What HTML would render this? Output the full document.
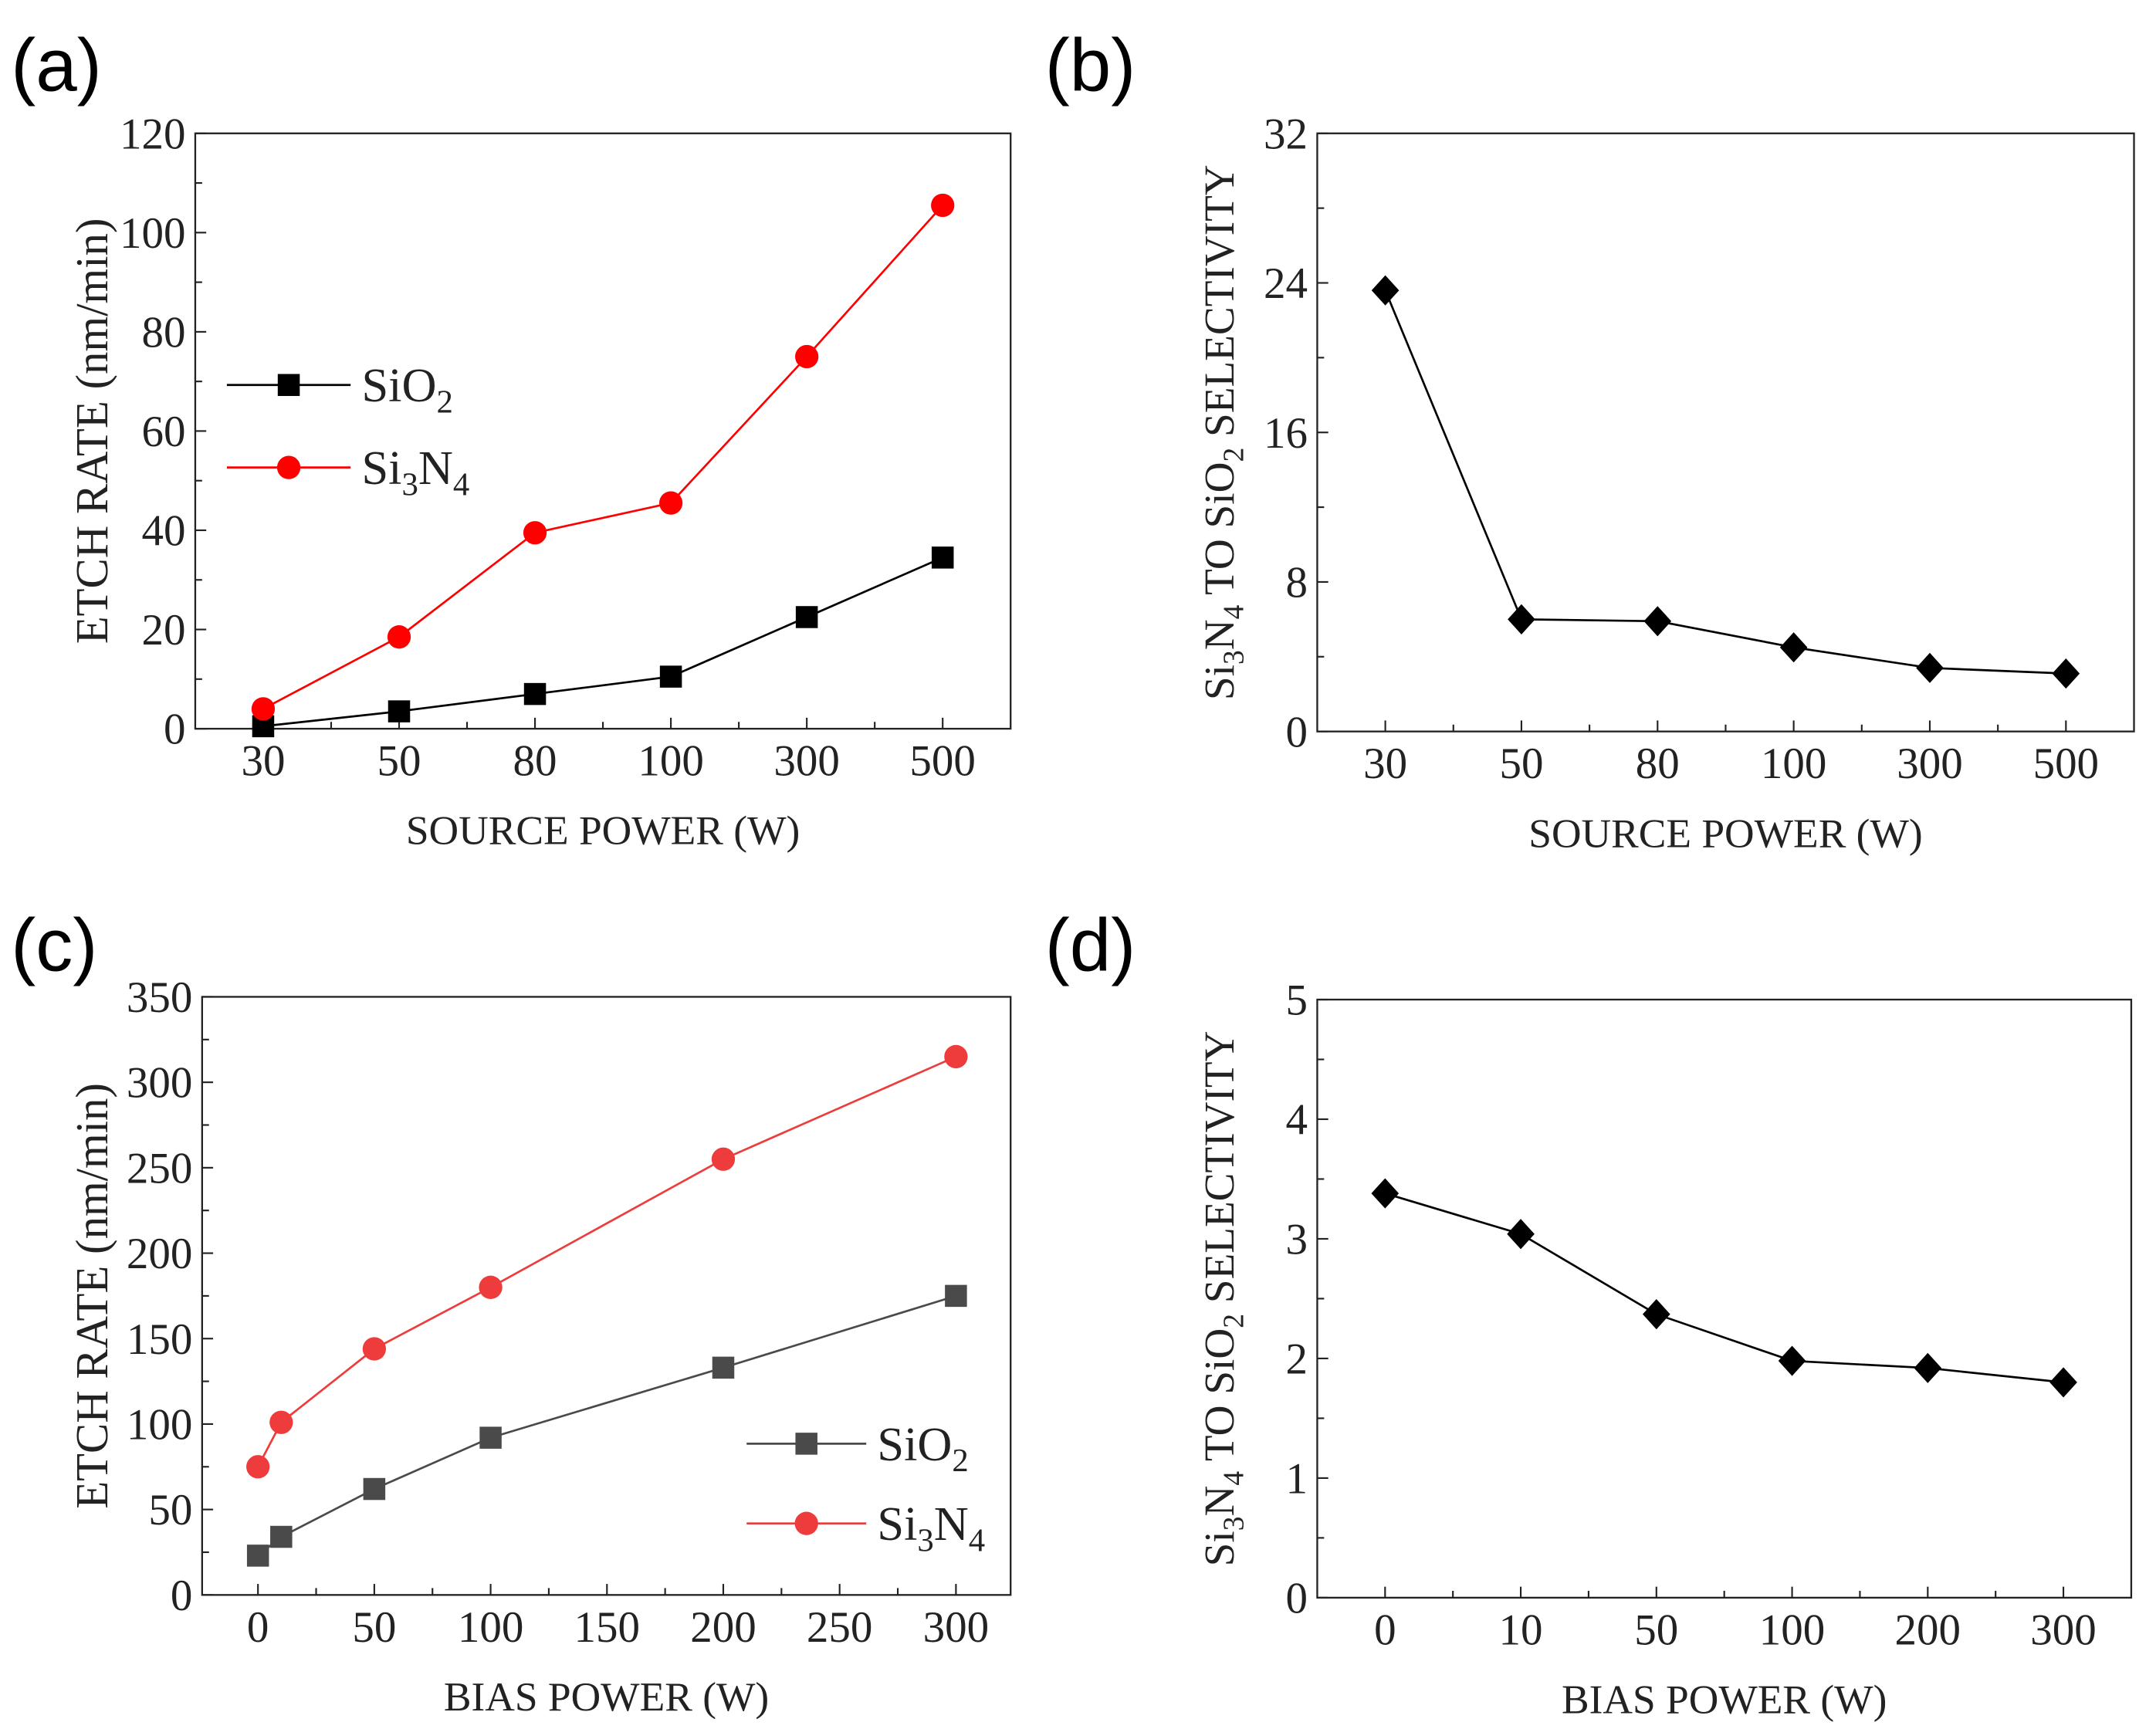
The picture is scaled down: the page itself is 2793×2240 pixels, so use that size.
<!DOCTYPE html>
<html><head><meta charset="utf-8"><style>
html,body{margin:0;padding:0;background:#fff}
svg{display:block}
text{font-family:"Liberation Serif",serif;fill:#222}
.pl{font-family:"Liberation Sans",sans-serif;fill:#000}
</style></head><body>
<svg id="fig" xmlns="http://www.w3.org/2000/svg" width="2793" height="2240" viewBox="0 0 1568 1257.5" preserveAspectRatio="none"></svg>
<script>
// Panel (a)
const catsA = ["30","50","80","100","300","500"];
const sio2A = [0.5, 3.5, 7, 10.5, 22.5, 34.5];
const si3n4A = [4, 18.5, 39.5, 45.5, 75, 105.5];
const yTicksA = [0,20,40,60,80,100,120];
// Panel (b)
const catsB = ["30","50","80","100","300","500"];
const selB = [23.6, 6.0, 5.9, 4.5, 3.4, 3.1];
const yTicksB = [0,8,16,24,32];
// Panel (c)
const xValsC = [0,10,50,100,200,300];
const sio2C = [23, 34, 62, 92, 133, 175];
const si3n4C = [75, 101, 144, 180, 255, 315];
const xTicksC = [0,50,100,150,200,250,300];
const yTicksC = [0,50,100,150,200,250,300,350];
// Panel (d)
const catsD = ["0","10","50","100","200","300"];
const selD = [3.38, 3.04, 2.37, 1.98, 1.92, 1.80];
const yTicksD = [0,1,2,3,4,5];

const NS = "http://www.w3.org/2000/svg";
const svg = document.getElementById('fig');
function mk(tag, attrs, parent, txt){
  const e = document.createElementNS(NS, tag);
  for (const k in attrs) e.setAttribute(k, attrs[k]);
  if (txt !== undefined) e.textContent = txt;
  (parent||svg).appendChild(e);
  return e;
}

function panel(o){
  const g = mk('g', {});
  
  
  const {L,R,T,B} = o;
  const xs = v => L + (v - o.x0) / (o.x1 - o.x0) * (R - L);
  const ys = v => B - (v - o.y0) / (o.y1 - o.y0) * (B - T);
  const frame = mk('rect', {x:L, y:T, width:R-L, height:B-T, fill:'none', stroke:'#222', 'stroke-width':1.3}, g);
  
  
  o.yTicks.forEach((t,i) => {
    const y = ys(t);
    mk('line', {x1:L, x2:L+8, y1:y, y2:y, stroke:'#222', 'stroke-width':1.2}, g);
    if (i < o.yTicks.length-1) {
      const ym = ys((t + o.yTicks[i+1]) / 2);
      mk('line', {x1:L, x2:L+5, y1:ym, y2:ym, stroke:'#222', 'stroke-width':1.2}, g);
    }
    const lb = mk('text', {x:L-7, y:y+11, 'text-anchor':'end', 'font-size':32}, g, String(t));
    
    
  });
  o.xTicks.forEach((t,i) => {
    const x = xs(t.v);
    mk('line', {x1:x, x2:x, y1:B, y2:B-8, stroke:'#222', 'stroke-width':1.2}, g);
    if (i < o.xTicks.length-1) {
      const xm = xs((t.v + o.xTicks[i+1].v) / 2);
      mk('line', {x1:xm, x2:xm, y1:B, y2:B-5, stroke:'#222', 'stroke-width':1.2}, g);
    }
    const lb = mk('text', {x:x, y:B+34, 'text-anchor':'middle', 'font-size':32}, g, t.l);
    
    
  });
  const xt = mk('text', {x:(L+R)/2, y:B+84, 'text-anchor':'middle', 'font-size':30}, g, o.xTitle);
  
  
  const yt = mk('text', {x:0, y:0, 'text-anchor':'middle', 'font-size':o.yFs, transform:`translate(${o.yTitleX},${(T+B)/2}) rotate(-90)`}, g);
  
  
  o.yTitle.forEach(p => { mk('tspan', p.sub ? {'font-size':o.yFs*0.68, dy:7} : {dy:p.up?-7:0}, yt, p.t); });
  o.series.forEach(s => {
    const pts = s.y.map((v,i) => [xs(s.x[i]), ys(v)]);
    const pl = mk('polyline', {points: pts.map(p=>p.join(',')).join(' '), fill:'none', stroke:s.color, 'stroke-width':1.5}, g);
    
    
    pts.forEach(p => {
      const m = marker(s.shape, p[0], p[1], s.color, g);
      
      
    });
  });
  const pl = mk('text', {x:o.labX, y:o.labY, 'font-size':54, class:'pl'}, svg, o.label);
  
  
  return g;
}
function marker(shape, x, y, c, g){
  if (shape === 'sq') return mk('rect', {x:x-8, y:y-8, width:16, height:16, fill:c}, g);
  if (shape === 'ci') return mk('circle', {cx:x, cy:y, r:8.5, fill:c}, g);
  return mk('polygon', {points:`${x},${y-11} ${x+10},${y} ${x},${y+11} ${x-10},${y}`, fill:c}, g);
}
function legend(x1, x2, y, shape, color, label){
  const g = mk('g', {});
  
  
  mk('line', {x1:x1, x2:x2, y1:y, y2:y, stroke:color, 'stroke-width':1.5}, g);
  marker(shape, (x1+x2)/2, y, color, g);
  const t = mk('text', {x:x2+8, y:y+12, 'font-size':35}, g);
  label.forEach(p => mk('tspan', p.sub ? {'font-size':24, dy:8} : {dy:p.back?-8:0}, t, p.t));
}
const idx = [0,1,2,3,4,5];
const catTicks = c => c.map((l,i)=>({v:i,l:l}));
const selTitle = [{t:'Si'},{t:'3',sub:1},{t:'N',up:1},{t:'4',sub:1},{t:' TO SiO',up:1},{t:'2',sub:1},{t:' SELECTIVITY',up:1}];

panel({name:'panel-a', L:142, R:735, T:97, B:530, x0:-0.5, x1:5.5, y0:0, y1:120,
  yTicks:yTicksA, xTicks:catTicks(catsA), xTitle:'SOURCE POWER (W)', yFs:33,
  yTitle:[{t:'ETCH RATE (nm/min)'}], yTitleX:78, label:'(a)', labX:8, labY:66,
  series:[{name:'sio2', x:idx, y:sio2A, color:'#000', shape:'sq'},
          {name:'si3n4', x:idx, y:si3n4A, color:'#f00', shape:'ci'}]});
legend(165, 255, 280, 'sq', '#000', [{t:'SiO'},{t:'2',sub:1}]);
legend(165, 255, 340, 'ci', '#f00', [{t:'Si'},{t:'3',sub:1},{t:'N',back:1},{t:'4',sub:1}]);

panel({name:'panel-b', L:958, R:1552, T:97, B:532, x0:-0.5, x1:5.5, y0:0, y1:32,
  yTicks:yTicksB, xTicks:catTicks(catsB), xTitle:'SOURCE POWER (W)', yFs:31,
  yTitle:selTitle, yTitleX:897, label:'(b)', labX:760, labY:66,
  series:[{name:'selectivity', x:idx, y:selB, color:'#000', shape:'di'}]});

panel({name:'panel-c', L:147, R:735, T:725, B:1160, x0:-24, x1:323.5, y0:0, y1:350,
  yTicks:yTicksC, xTicks:xTicksC.map(v=>({v:v,l:String(v)})), xTitle:'BIAS POWER (W)', yFs:33,
  yTitle:[{t:'ETCH RATE (nm/min)'}], yTitleX:78, label:'(c)', labX:8, labY:706,
  series:[{name:'sio2', x:xValsC, y:sio2C, color:'#4a4a4a', shape:'sq'},
          {name:'si3n4', x:xValsC, y:si3n4C, color:'#ee3b3b', shape:'ci'}]});
legend(543, 630, 1050, 'sq', '#4a4a4a', [{t:'SiO'},{t:'2',sub:1}]);
legend(543, 630, 1108, 'ci', '#ee3b3b', [{t:'Si'},{t:'3',sub:1},{t:'N',back:1},{t:'4',sub:1}]);

panel({name:'panel-d', L:958, R:1550, T:727, B:1162, x0:-0.5, x1:5.5, y0:0, y1:5,
  yTicks:yTicksD, xTicks:catTicks(catsD), xTitle:'BIAS POWER (W)', yFs:31,
  yTitle:selTitle, yTitleX:897, label:'(d)', labX:760, labY:706,
  series:[{name:'selectivity', x:idx, y:selD, color:'#000', shape:'di'}]});
</script>
</body></html>
